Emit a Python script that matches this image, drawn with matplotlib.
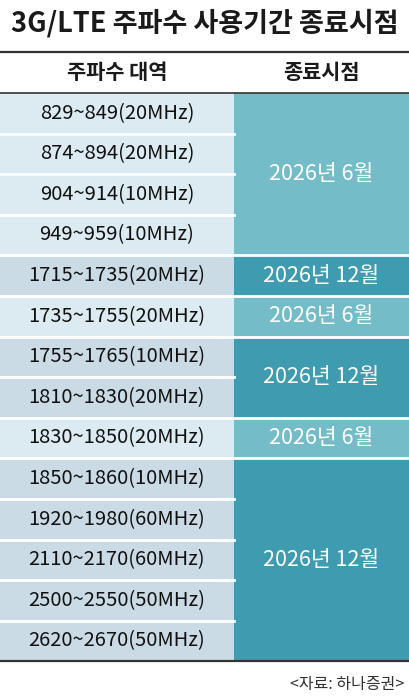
import matplotlib
matplotlib.use("Agg")
import matplotlib.pyplot as plt
from matplotlib.patches import Rectangle

plt.rcParams['font.family'] = ['Noto Sans CJK KR', 'DejaVu Sans']

title = "3G/LTE 주파수 사용기간 종료시점"
headers = ["주파수 대역", "종료시점"]
bands = ["829~849(20MHz)", "874~894(20MHz)", "904~914(10MHz)", "949~959(10MHz)",
         "1715~1735(20MHz)", "1735~1755(20MHz)", "1755~1765(10MHz)", "1810~1830(20MHz)",
         "1830~1850(20MHz)", "1850~1860(10MHz)", "1920~1980(60MHz)", "2110~2170(60MHz)",
         "2500~2550(50MHz)", "2620~2670(50MHz)"]
end_labels = ["2026년 6월", "2026년 12월", "2026년 6월", "2026년 12월", "2026년 6월", "2026년 12월"]
end_spans = [4, 1, 1, 2, 1, 5]
source = "<자료: 하나증권>"

W, H = 409, 700
fig = plt.figure(figsize=(W / 100, H / 100), dpi=100)
ax = fig.add_axes([0, 0, 1, 1])
ax.set_xlim(0, W)
ax.set_ylim(H, 0)
ax.axis('off')

top, head_h, row_h = 52, 41, 40.6
split = 234
body_top = top + head_h
left_col = {"2026년 6월": "#dcebf1", "2026년 12월": "#cbdbe5"}
right_col = {"2026년 6월": "#73bcc8", "2026년 12월": "#3f9baf"}

ax.text(W / 2, 23, title, ha='center', va='center', fontsize=19.5, fontweight='bold', color='#1a1a1a')
ax.text(split / 2, top + head_h / 2, headers[0], ha='center', va='center', fontsize=15, fontweight='bold', color='#1a1a1a')
ax.text((split + W) / 2, top + head_h / 2, headers[1], ha='center', va='center', fontsize=15, fontweight='bold', color='#1a1a1a')

row = 0
for label, span in zip(end_labels, end_spans):
    y0 = body_top + row * row_h
    for i in range(span):
        yy = y0 + i * row_h
        ax.add_patch(Rectangle((0, yy), split, row_h, facecolor=left_col[label], edgecolor='none'))
        ax.text(split / 2, yy + row_h / 2, bands[row + i], ha='center', va='center', fontsize=14.5, color='#111111')
        if i > 0:
            ax.plot([0, split], [yy, yy], color='white', lw=2)
    ax.add_patch(Rectangle((split, y0), W - split, span * row_h, facecolor=right_col[label], edgecolor='none'))
    ax.text((split + W) / 2, y0 + span * row_h / 2, label, ha='center', va='center', fontsize=15.5, color='white')
    if row > 0:
        ax.plot([0, W], [y0, y0], color='white', lw=2)
    row += span

bottom = body_top + row * row_h
ax.plot([0, W], [top, top], color='#333333', lw=1.6)
ax.plot([0, W], [body_top, body_top], color='#333333', lw=1.2)
ax.plot([0, W], [bottom, bottom], color='#333333', lw=1.6)
ax.text(W - 5, bottom + 23, source, ha='right', va='center', fontsize=11.5, color='#333333')

fig.savefig("out.png", dpi=100, facecolor='white')
